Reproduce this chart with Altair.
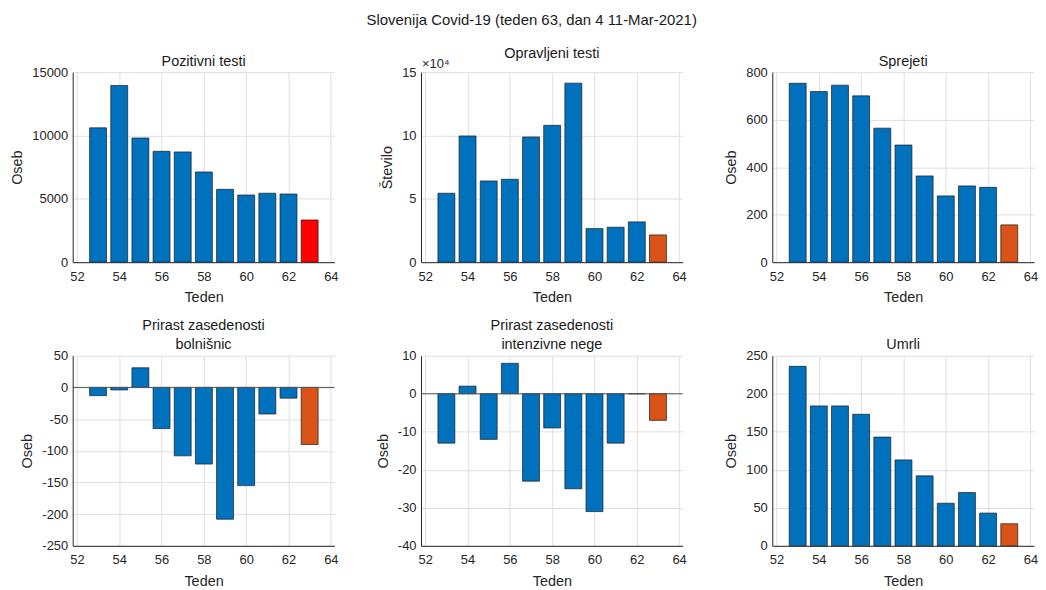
import altair as alt
import pandas as pd

weeks = [53, 54, 55, 56, 57, 58, 59, 60, 61, 62, 63]
pozitivni = [10600, 13950, 9800, 8750, 8700, 7120, 5750, 5300, 5440, 5380, 3330]
opravljeni = [5.44, 9.96, 6.41, 6.54, 9.88, 10.8, 14.13, 2.65, 2.76, 3.18, 2.15]  # x 10^4
sprejeti = [753, 718, 745, 700, 564, 493, 363, 279, 321, 315, 157]
prirast_bol = [-13, -4, 31, -65, -108, -121, -208, -155, -42, -17, -90]
prirast_int = [-13, 2, -12, 8, -23, -9, -25, -31, -13, 0, -7]
umrli = [236, 184, 184, 173, 143, 113, 92, 56, 70, 43, 29]

xticks = [52, 54, 56, 58, 60, 62, 64]

BLUE = "#0072BD"
ORANGE = "#D95319"
RED = "#FF0000"
FONT = "Liberation Sans"
W, H = 263, 191


def panel(vals, title, ytitle, ydom, yticks, last_color, zero=False, exp=None):
    df = pd.DataFrame({"w": weeks, "v": vals,
                       "c": [BLUE] * (len(weeks) - 1) + [last_color]})
    base = alt.Chart(df).transform_calculate(
        x0="datum.w - 0.4", x1="datum.w + 0.4", z="0")
    yaxis = alt.Axis(values=yticks, title=ytitle,
                     labelExpr="'' + datum.value", labelOverlap=False)
    bars = base.mark_bar(stroke="#1a1a1a", strokeWidth=0.7).encode(
        x=alt.X("x0:Q",
                scale=alt.Scale(domain=[51.8, 64.17], nice=False, zero=False),
                axis=alt.Axis(values=xticks, title="Teden",
                              labelExpr="'' + datum.value",
                              labelFlush=False, labelOverlap=False)),
        x2="x1:Q",
        y=alt.Y("v:Q", scale=alt.Scale(domain=ydom, nice=False), axis=yaxis),
        y2="z:Q",
        color=alt.Color("c:N", scale=None),
    )
    layers = [bars]
    if zero:
        rule = alt.Chart(pd.DataFrame({"y0": [0]})).mark_rule(
            color="#555555", strokeWidth=1).encode(
            y=alt.Y("y0:Q", axis=yaxis))
        layers.append(rule)
    if exp:
        t = alt.Chart(pd.DataFrame({"t": [exp]})).mark_text(
            align="left", baseline="middle", fontSize=13, font=FONT,
            color="#262626").encode(x=alt.value(1), y=alt.value(-8), text="t:N")
        layers.append(t)
    return alt.layer(*layers).properties(
        width=W, height=H,
        title=alt.TitleParams(title, fontSize=14.5, fontWeight="normal",
                              font=FONT, color="#1a1a1a", offset=-3,
                              frame="group", lineHeight=19),
    )


p1 = panel(pozitivni, "Pozitivni testi", "Oseb", [0, 15000],
           [0, 5000, 10000, 15000], RED)
p2 = panel(opravljeni, "Opravljeni testi", "Število", [0, 15],
           [0, 5, 10, 15], ORANGE, exp="×10⁴")
p3 = panel(sprejeti, "Sprejeti", "Oseb", [0, 800],
           [0, 200, 400, 600, 800], ORANGE)
p4 = panel(prirast_bol, ["Prirast zasedenosti", "bolnišnic"], "Oseb",
           [-250, 50], [-250, -200, -150, -100, -50, 0, 50], ORANGE, zero=True)
p5 = panel(prirast_int, ["Prirast zasedenosti", "intenzivne nege"], "Oseb",
           [-40, 10], [-40, -30, -20, -10, 0, 10], ORANGE, zero=True)
p6 = panel(umrli, "Umrli", "Oseb", [0, 250],
           [0, 50, 100, 150, 200, 250], ORANGE)

chart = alt.concat(p1, p2, p3, p4, p5, p6, columns=3,
                   spacing={"row": 13, "column": 37}).properties(
    title=alt.TitleParams("Slovenija Covid-19 (teden 63, dan 4 11-Mar-2021)",
                          fontSize=15, fontWeight="normal", font=FONT,
                          color="#1a1a1a", anchor="middle", offset=18, dx=8),
    padding={"top": 3, "left": 1, "right": 0, "bottom": 0},
).configure_view(stroke=None).configure_axis(
    labelFont=FONT, titleFont=FONT, labelFontSize=13, titleFontSize=14.5,
    labelColor="#262626", titleColor="#262626", titleFontWeight="normal",
    domainColor="#262626", domainWidth=1, gridColor="#dfdfdf", gridWidth=1,
    ticks=False,
).configure_axisX(labelPadding=8, titlePadding=8).configure_axisY(
    labelPadding=5, titlePadding=7)

chart.save("out.html", embed_options={"renderer": "svg", "actions": False})
